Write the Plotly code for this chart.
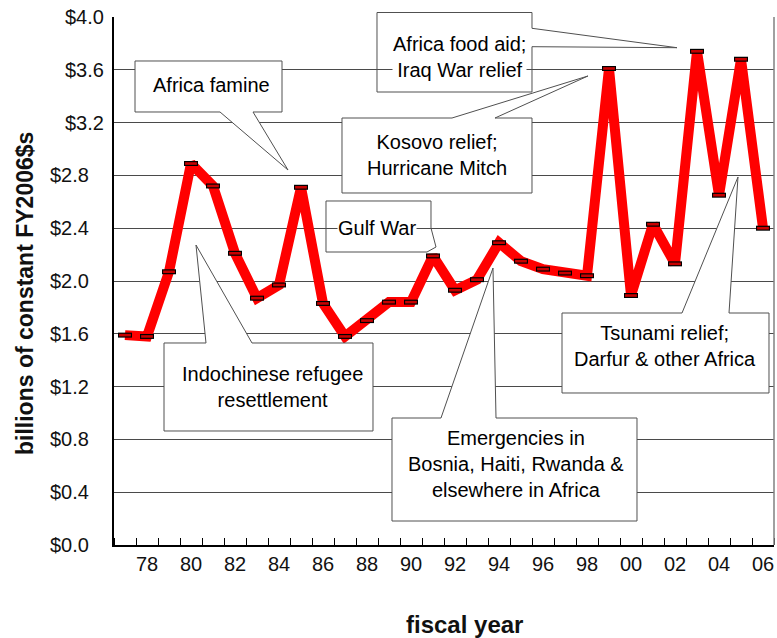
import plotly.graph_objects as go

# ---- data ----
years = list(range(1977, 2007))
values = [1.59, 1.58, 2.07, 2.89, 2.72, 2.21, 1.87, 1.97, 2.71, 1.83,
          1.58, 1.70, 1.84, 1.84, 2.19, 1.93, 2.01, 2.29, 2.15, 2.09,
          2.06, 2.04, 3.61, 1.89, 2.43, 2.13, 3.74, 2.65, 3.68, 2.40]
x_tick_vals = list(range(1978, 2007, 2))
x_tick_text = ["78", "80", "82", "84", "86", "88", "90", "92", "94", "96",
               "98", "00", "02", "04", "06"]
y_tick_vals = [0.0, 0.4, 0.8, 1.2, 1.6, 2.0, 2.4, 2.8, 3.2, 3.6, 4.0]
y_tick_text = ["$0.0", "$0.4", "$0.8", "$1.2", "$1.6", "$2.0", "$2.4",
               "$2.8", "$3.2", "$3.6", "$4.0"]

# ---- layout geometry (pixels) ----
W, H = 777, 638
L, R, T, B = 114, 3, 17, 93
PW, PH = W - L - R, H - T - B
FONT = "Liberation Sans, Arial, sans-serif"


def pp(px, py):
    """pixel position -> paper fraction"""
    return (px - L) / PW, (H - B - py) / PH


def path(points):
    pts = [pp(x, y) for x, y in points]
    s = "M %.5f,%.5f " % pts[0]
    s += " ".join("L %.5f,%.5f" % p for p in pts[1:])
    return s + " Z"


callouts = [
    dict(text="Africa famine", c=(211, 85), fill=True,
         poly=[(135, 61), (282, 61), (282, 112), (253, 112), (288, 170),
               (220, 112), (135, 112)]),
    dict(text="Africa food aid;<br>Iraq War relief", c=(459, 57), fill=False,
         poly=[(377, 12.5), (532, 12.5), (532, 28.3), (677, 47.7),
               (532, 46.7), (532, 92), (377, 92)]),
    dict(text="Kosovo relief;<br>Hurricane Mitch", c=(437, 155), fill=True,
         poly=[(342, 118), (452, 118), (588, 76), (495, 118), (532, 118),
               (532, 193), (342, 193)]),
    dict(text="Gulf War", c=(377, 228), fill=False,
         poly=[(326, 201), (431, 201), (431, 228), (436, 247), (427, 252),
               (326, 252)]),
    dict(text="Indochinese refugee<br>resettlement", c=(272, 387), fill=True,
         poly=[(164, 343), (206, 343), (196, 245), (252, 343), (373, 343),
               (373, 431), (164, 431)]),
    dict(text="Emergencies in<br>Bosnia, Haiti, Rwanda &amp;<br>elsewhere in Africa",
         c=(516, 464), fill=True,
         poly=[(392, 418), (441, 418), (493, 268), (496, 418), (637, 418),
               (637, 521), (392, 521)]),
    dict(text="Tsunami relief;<br>Darfur &amp; other Africa", c=(665, 346),
         fill=True,
         poly=[(562, 313), (682, 313), (738, 177), (729, 313), (769, 313),
               (769, 393), (562, 393)]),
]

fig = go.Figure()
fig.add_trace(go.Scatter(x=years, y=values, mode="lines",
                         line=dict(color="#ff0000", width=10),
                         hoverinfo="skip"))
fig.add_trace(go.Scatter(x=years, y=values, mode="markers",
                         marker=dict(symbol="line-ew", size=10,
                                     line=dict(color="black", width=5)),
                         hoverinfo="skip"))
fig.add_trace(go.Scatter(x=years, y=values, mode="markers",
                         marker=dict(symbol="line-ew", size=8.4,
                                     line=dict(color="#c80000", width=2.6)),
                         hoverinfo="skip"))

shapes = [dict(type="line", xref="paper", yref="paper", x0=1, x1=1, y0=0,
               y1=1, line=dict(color="#808080", width=1.5))]
annotations = []
for c in callouts:
    shapes.append(dict(type="path", xref="paper", yref="paper",
                       path=path(c["poly"]), layer="above",
                       line=dict(color="#505050", width=1),
                       fillcolor="white" if c["fill"] else "rgba(0,0,0,0)"))
    x, y = pp(*c["c"])
    annotations.append(dict(text=c["text"], x=x, y=y, xref="paper",
                            yref="paper", showarrow=False, xanchor="center",
                            yanchor="middle", align="center",
                            font=dict(family=FONT, size=20, color="black"),
                            bgcolor=None if c["fill"] else "white",
                            borderpad=0))

# y tick labels (upper three sit further right, as in the original)
for v, t in zip(y_tick_vals, y_tick_text):
    xr = 106 if v >= 3.2 else 91
    annotations.append(dict(text=t, x=pp(xr, 0)[0], y=v, xref="paper",
                            yref="y", showarrow=False, xanchor="right",
                            yanchor="middle",
                            font=dict(family=FONT, size=20, color="#111")))

# axis titles
tx, ty = pp(464.5, 624)
annotations.append(dict(text="<b>fiscal year</b>", x=tx, y=ty, xref="paper",
                        yref="paper", showarrow=False, xanchor="center",
                        yanchor="middle",
                        font=dict(family=FONT, size=24, color="#111")))
tx, ty = pp(25, 294)
annotations.append(dict(text="<b>billions of constant FY2006$s</b>", x=tx,
                        y=ty, xref="paper", yref="paper", showarrow=False,
                        xanchor="center", yanchor="middle", textangle=-90,
                        font=dict(family=FONT, size=23, color="#111")))

fig.update_layout(
    width=W, height=H, autosize=False,
    margin=dict(l=L, r=R, t=T, b=B, pad=0),
    paper_bgcolor="white", plot_bgcolor="white",
    showlegend=False,
    shapes=shapes, annotations=annotations,
    xaxis=dict(range=[1976.5, 2006.5], tickmode="array",
               tickvals=x_tick_vals, ticktext=x_tick_text, ticks="",
               showgrid=False, zeroline=False, showline=True,
               linecolor="black", linewidth=2, ticklabelstandoff=0,
               tickfont=dict(family=FONT, size=20, color="#111"),
               minor=dict(ticks="inside", ticklen=7, tickcolor="black",
                          tickwidth=1, tickmode="linear", tick0=1976.5,
                          dtick=1, showgrid=False)),
    yaxis=dict(range=[0, 4.0], tickmode="array", tickvals=y_tick_vals,
               showticklabels=False, ticks="", showgrid=True,
               gridcolor="#4a4a4a", gridwidth=1, zeroline=False,
               showline=True, linecolor="black", linewidth=2),
)

fig.write_html("out.html",
               config={"displayModeBar": False},
               post_script="document.body.style.margin='0';"
                           "document.body.style.overflow='hidden';")
